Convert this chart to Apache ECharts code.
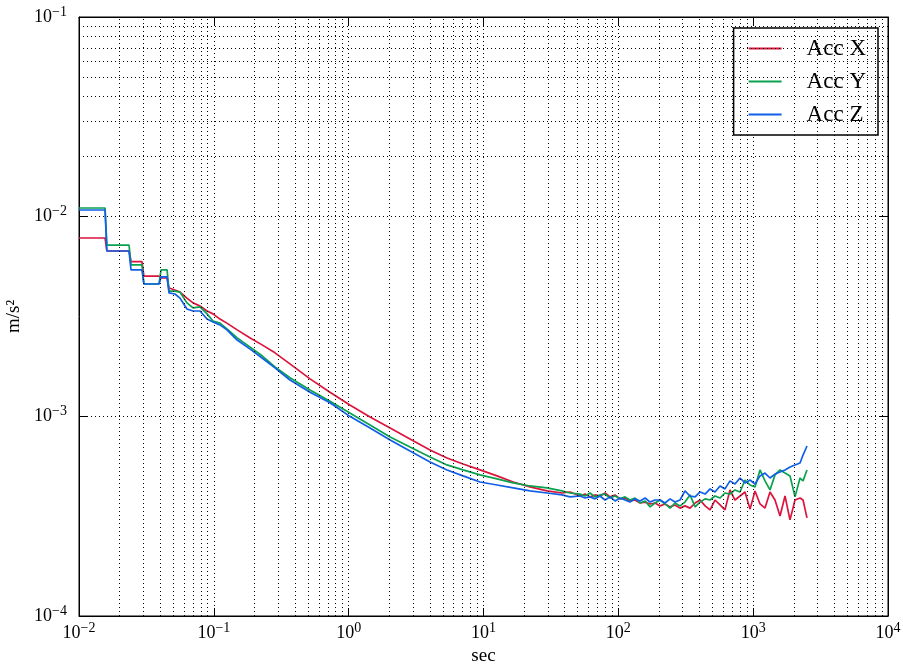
<!DOCTYPE html>
<html>
<head>
<meta charset="utf-8">
<script src="https://cdn.jsdelivr.net/npm/echarts@6/dist/echarts.min.js"></script>
<style>
  html, body { margin: 0; padding: 0; background: #fff; }
  #main { width: 903px; height: 669px; }
</style>
</head>
<body>
<div id="main"></div>
<script>
// averaging time (sec)
var tau = [0.01, 0.0156, 0.0161, 0.0235, 0.0243, 0.0293, 0.0303, 0.0392, 0.0406, 0.0450, 0.0465,
  0.0515, 0.0561, 0.0632, 0.0701, 0.0790, 0.0890, 0.0986, 0.111, 0.125, 0.149, 0.186, 0.228, 0.284, 0.367,
  0.517, 0.727, 1.02, 1.44, 2.03, 2.85, 4.01, 5.36, 7.05, 9.42, 12.6, 16.6, 22.1, 29.6, 38.2, 43.8,
  52.0, 56.6, 61.7, 67.2, 73.1, 79.7, 86.8, 94.5, 103, 112, 122, 133, 145, 158, 172, 187, 204, 222, 242, 263,
  287, 312, 340, 371, 404, 440, 479, 521, 568, 618, 673, 733, 799, 870, 948, 1032, 1124, 1224, 1333, 1452,
  1582, 1723, 1876, 2044, 2226, 2343, 2507];

var accX = [7.82e-3, 7.82e-3, 6.73e-3, 6.73e-3, 5.96e-3, 5.96e-3, 5.04e-3, 5.04e-3, 4.93e-3, 4.93e-3, 4.39e-3,
  4.29e-3, 4.19e-3, 3.91e-3, 3.70e-3, 3.57e-3, 3.37e-3, 3.26e-3, 3.07e-3, 2.93e-3, 2.71e-3, 2.47e-3, 2.28e-3, 2.08e-3, 1.83e-3,
  1.54e-3, 1.32e-3, 1.14e-3, 9.92e-4, 8.74e-4, 7.70e-4, 6.78e-4, 6.19e-4, 5.77e-4, 5.39e-4, 5.03e-4, 4.69e-4, 4.43e-4, 4.23e-4, 4.13e-4, 4.18e-4,
  3.99e-4, 4.08e-4, 3.95e-4, 4.04e-4, 3.99e-4, 4.13e-4, 3.95e-4, 4.04e-4, 3.86e-4, 3.90e-4, 3.77e-4, 3.81e-4, 3.68e-4, 3.72e-4, 3.64e-4, 3.68e-4,
  3.56e-4, 3.64e-4, 3.52e-4, 3.60e-4, 3.47e-4, 3.56e-4, 3.47e-4, 3.68e-4, 3.81e-4, 3.56e-4, 3.40e-4, 3.81e-4, 3.60e-4, 3.40e-4,
  4.28e-4, 3.81e-4, 3.99e-4, 4.18e-4, 3.43e-4, 4.23e-4, 3.64e-4, 3.47e-4, 4.18e-4, 3.81e-4, 3.17e-4, 3.99e-4, 3.03e-4, 3.81e-4,
  3.90e-4, 3.81e-4, 3.10e-4];

var accY = [1.105e-2, 1.105e-2, 7.21e-3, 7.21e-3, 5.73e-3, 5.73e-3, 4.60e-3, 4.60e-3, 5.41e-3, 5.41e-3, 4.24e-3,
  4.24e-3, 4.19e-3, 3.70e-3, 3.49e-3, 3.53e-3, 3.26e-3, 3.00e-3, 2.93e-3, 2.74e-3, 2.47e-3, 2.22e-3, 2.01e-3, 1.77e-3, 1.56e-3,
  1.355e-3, 1.19e-3, 1.04e-3, 9.05e-4, 7.88e-4, 7.02e-4, 6.26e-4, 5.71e-4, 5.39e-4, 5.09e-4, 4.86e-4, 4.64e-4, 4.48e-4, 4.38e-4, 4.23e-4, 4.13e-4,
  4.08e-4, 3.99e-4, 4.13e-4, 3.95e-4, 4.04e-4, 4.08e-4, 3.90e-4, 3.99e-4, 3.86e-4, 3.95e-4, 3.81e-4, 3.90e-4, 3.68e-4, 3.77e-4, 3.52e-4, 3.68e-4,
  3.81e-4, 3.64e-4, 3.47e-4, 3.68e-4, 3.56e-4, 3.72e-4, 4.04e-4, 3.52e-4, 3.72e-4, 3.86e-4, 3.81e-4, 3.99e-4, 3.90e-4, 4.13e-4,
  4.08e-4, 4.28e-4, 4.18e-4, 4.80e-4, 4.53e-4, 4.43e-4, 5.39e-4, 4.75e-4, 4.28e-4, 5.09e-4, 5.39e-4, 5.20e-4, 5.03e-4, 3.95e-4,
  4.91e-4, 4.75e-4, 5.39e-4];

var accZ = [1.08e-2, 1.08e-2, 6.73e-3, 6.73e-3, 5.41e-3, 5.41e-3, 4.60e-3, 4.60e-3, 4.99e-3, 4.99e-3, 4.15e-3,
  4.10e-3, 3.91e-3, 3.45e-3, 3.37e-3, 3.37e-3, 3.07e-3, 2.97e-3, 2.87e-3, 2.71e-3, 2.41e-3, 2.17e-3, 1.96e-3, 1.75e-3, 1.52e-3,
  1.32e-3, 1.17e-3, 1.00e-3, 8.74e-4, 7.61e-4, 6.70e-4, 5.91e-4, 5.39e-4, 5.03e-4, 4.69e-4, 4.53e-4, 4.38e-4, 4.23e-4, 4.13e-4, 4.04e-4, 3.95e-4,
  3.99e-4, 3.90e-4, 3.95e-4, 3.86e-4, 3.99e-4, 3.81e-4, 3.95e-4, 3.77e-4, 3.90e-4, 3.81e-4, 3.72e-4, 3.86e-4, 3.77e-4, 3.90e-4, 3.72e-4, 3.81e-4,
  3.81e-4, 3.68e-4, 3.86e-4, 3.72e-4, 3.81e-4, 4.23e-4, 3.99e-4, 3.95e-4, 4.18e-4, 4.08e-4, 4.33e-4, 4.18e-4, 4.48e-4, 4.33e-4,
  4.75e-4, 4.58e-4, 4.91e-4, 4.64e-4, 4.80e-4, 4.58e-4, 5.03e-4, 5.20e-4, 4.91e-4, 5.14e-4, 5.26e-4, 5.39e-4, 5.58e-4, 5.71e-4,
  5.84e-4, 6.40e-4, 7.10e-4];

var seriesNames = ['Acc X', 'Acc Y', 'Acc Z'];
var seriesColors = ['#dc143c', '#0aa14f', '#0f5fe8'];

var xMin = 1e-2, xMax = 1e4;
var yMin = 1e-4, yMax = 1e-1;

var font = 'Liberation Serif';
var dotted = { color: '#000', type: [1, 3], width: 1 };

// minor grid lines at 2..9 of each decade
var minorLines = [];
for (var e = -2; e < 4; e++) {
  for (var m = 2; m < 10; m++) minorLines.push({ xAxis: m * Math.pow(10, e) });
}
for (var e2 = -4; e2 < -1; e2++) {
  for (var m2 = 2; m2 < 10; m2++) minorLines.push({ yAxis: m2 * Math.pow(10, e2) });
}

function powLabel(v) {
  var p = Math.round(Math.log10(v));
  return '{b|10}{s|' + (p < 0 ? '\u2212' : '') + Math.abs(p) + '}';
}
var labelRich = {
  b: { fontSize: 18, fontFamily: font, color: '#000', lineHeight: 24 },
  s: { fontSize: 14, fontFamily: font, color: '#000', lineHeight: 12, verticalAlign: 'top' }
};

function pairs(vals) {
  return tau.map(function (t, i) { return [t, vals[i]]; });
}

var lineSeries = [accX, accY, accZ].map(function (vals, i) {
  return {
    name: seriesNames[i],
    type: 'line',
    data: pairs(vals),
    showSymbol: false,
    symbol: 'none',
    z: 3,
    color: seriesColors[i],
    lineStyle: { width: 1.7, color: seriesColors[i] }
  };
});

var myChart = echarts.init(document.getElementById('main'), null, { renderer: 'canvas' });
myChart.setOption({
  animation: false,
  backgroundColor: '#fff',
  grid: {
    left: 79, right: 15, top: 17, bottom: 53,
    outerBoundsMode: 'none', containLabel: false,
    show: true, borderColor: '#000', borderWidth: 1, backgroundColor: 'transparent'
  },
  legend: {
    data: seriesNames,
    orient: 'vertical',
    right: 25,
    top: 28,
    backgroundColor: '#fff',
    borderColor: '#000',
    borderWidth: 1.5,
    padding: [9, 12, 9, 15],
    itemGap: 10,
    itemWidth: 33,
    itemHeight: 2,
    icon: 'rect',
    textStyle: { fontFamily: font, fontSize: 23, color: '#000', lineHeight: 23, padding: [0, 0, 0, 20] }
  },
  xAxis: [{
    type: 'log', logBase: 10, min: xMin, max: xMax,
    name: 'sec', nameLocation: 'middle', nameGap: 31,
    nameTextStyle: { fontFamily: font, fontSize: 19, color: '#000' },
    axisLine: { lineStyle: { color: '#000', width: 1 } },
    axisTick: { inside: true, length: 8, lineStyle: { color: '#000' } },
    axisLabel: { formatter: powLabel, rich: labelRich, margin: 5 },
    splitLine: { show: true, lineStyle: dotted }
  }, {
    type: 'log', logBase: 10, min: xMin, max: xMax, position: 'top',
    axisLine: { lineStyle: { color: '#000', width: 1 } },
    axisTick: { inside: true, length: 8, lineStyle: { color: '#000' } },
    axisLabel: { show: false },
    splitLine: { show: false }
  }],
  yAxis: [{
    type: 'log', logBase: 10, min: yMin, max: yMax,
    name: 'm/s\u00b2', nameLocation: 'middle', nameGap: 54, nameRotate: 90,
    nameTextStyle: { fontFamily: font, fontSize: 19, color: '#000' },
    axisLine: { lineStyle: { color: '#000', width: 1 } },
    axisTick: { inside: true, length: 8, lineStyle: { color: '#000' } },
    axisLabel: { formatter: powLabel, rich: labelRich, margin: 12 },
    splitLine: { show: true, lineStyle: dotted }
  }, {
    type: 'log', logBase: 10, min: yMin, max: yMax, position: 'right',
    axisLine: { lineStyle: { color: '#000', width: 1 } },
    axisTick: { inside: true, length: 8, lineStyle: { color: '#000' } },
    axisLabel: { show: false },
    splitLine: { show: false }
  }],
  series: [{
    name: 'grid',
    type: 'line',
    data: [],
    z: 1,
    silent: true,
    markLine: {
      silent: true,
      symbol: ['none', 'none'],
      label: { show: false },
      lineStyle: dotted,
      emphasis: { disabled: true },
      animation: false,
      data: minorLines
    }
  }].concat(lineSeries)
});
</script>
</body>
</html>
